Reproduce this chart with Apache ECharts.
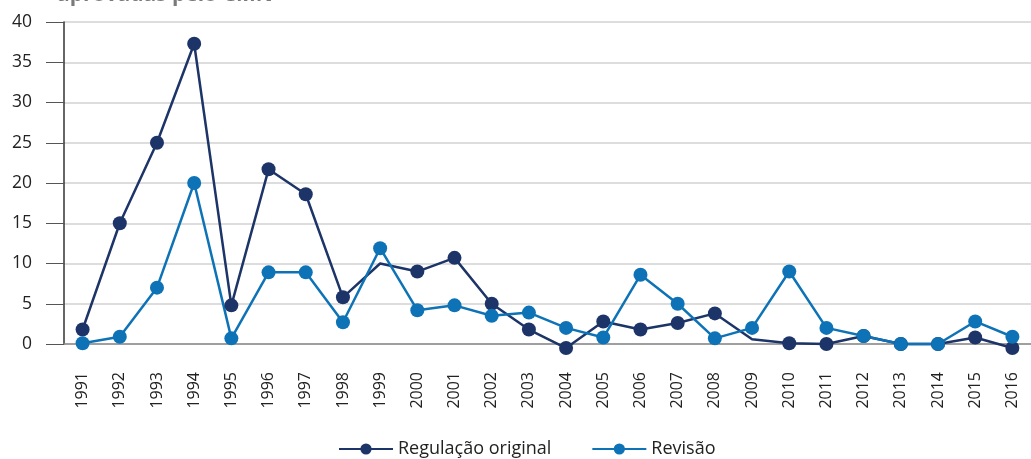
<!DOCTYPE html>
<html>
<head>
<meta charset="utf-8">
<script src="https://cdn.jsdelivr.net/npm/echarts@6/dist/echarts.min.js"></script>
<style>
  html, body { margin: 0; padding: 0; background: #fff; }
  #chart { width: 1031px; height: 459px; }
</style>
</head>
<body>
<div id="chart"></div>
<script>
const years = ['1991', '1992', '1993', '1994', '1995', '1996', '1997', '1998', '1999', '2000',
  '2001', '2002', '2003', '2004', '2005', '2006', '2007', '2008', '2009', '2010',
  '2011', '2012', '2013', '2014', '2015', '2016']
const original = [1.8, 15, 25, 37.3, 4.8, 21.7, 18.6, 5.8, 10, 9,
  10.7, 5, 1.8, -0.5, 2.8, 1.8, 2.6, 3.8, 0.6, 0.1,
  0, 1, 0, 0, 0.8, -0.5]
const revisao = [0.1, 0.9, 7, 20, 0.7, 8.9, 8.9, 2.7, 11.9, 4.2,
  4.8, 3.5, 3.9, 2, 0.8, 8.6, 5, 0.7, 2, 9,
  2, 1, 0, 0, 2.8, 0.9]
// anos da série original sem marcador no gráfico
const semMarcador = ['1999', '2009']
const yTicks = [0, 40, 5]

const fonte = '"Open Sans", "Noto Sans", sans-serif'

const chart = echarts.init(document.getElementById('chart'))
chart.setOption({
  animation: false,
  title: {
    text: 'aprovadas pelo CMN',
    left: 52,
    top: -20,
    textStyle: { color: '#7a7a7a', fontSize: 21, fontWeight: 'bold', fontFamily: fonte }
  },
  grid: { left: 64, top: 22, width: 978, bottom: 115 },
  legend: {
    left: 333,
    bottom: -4,
    itemWidth: 54,
    itemHeight: 14,
    itemGap: 40,
    textStyle: { color: '#222', fontSize: 18, fontFamily: fonte },
    data: ['Regulação original', 'Revisão']
  },
  xAxis: {
    type: 'category',
    data: years,
    boundaryGap: true,
    axisLine: { lineStyle: { color: '#8a8a8a', width: 1.5 } },
    axisTick: { alignWithLabel: true, length: 14, lineStyle: { color: '#333' } },
    axisLabel: { rotate: 90, margin: 28, fontSize: 16, color: '#222', fontFamily: fonte }
  },
  yAxis: {
    type: 'value',
    min: yTicks[0],
    max: yTicks[1],
    interval: yTicks[2],
    axisLine: { show: true, lineStyle: { color: '#333', width: 1.5 } },
    axisTick: { show: true, length: 18, lineStyle: { color: '#555' } },
    axisLabel: { margin: 32, fontSize: 17.5, color: '#222', fontFamily: fonte },
    splitLine: { lineStyle: { color: '#d2d2d2', width: 1.5 } }
  },
  series: [
    {
      name: 'Regulação original',
      type: 'line',
      clip: false,
      symbol: 'circle',
      symbolSize: 14,
      color: '#1d3468',
      lineStyle: { width: 2.5 },
      data: original.map((v, i) => semMarcador.includes(years[i]) ? { value: v, symbol: 'none' } : v)
    },
    {
      name: 'Revisão',
      type: 'line',
      clip: false,
      symbol: 'circle',
      symbolSize: 14,
      color: '#0d73b6',
      lineStyle: { width: 2.5 },
      data: revisao
    }
  ]
})
</script>
</body>
</html>
